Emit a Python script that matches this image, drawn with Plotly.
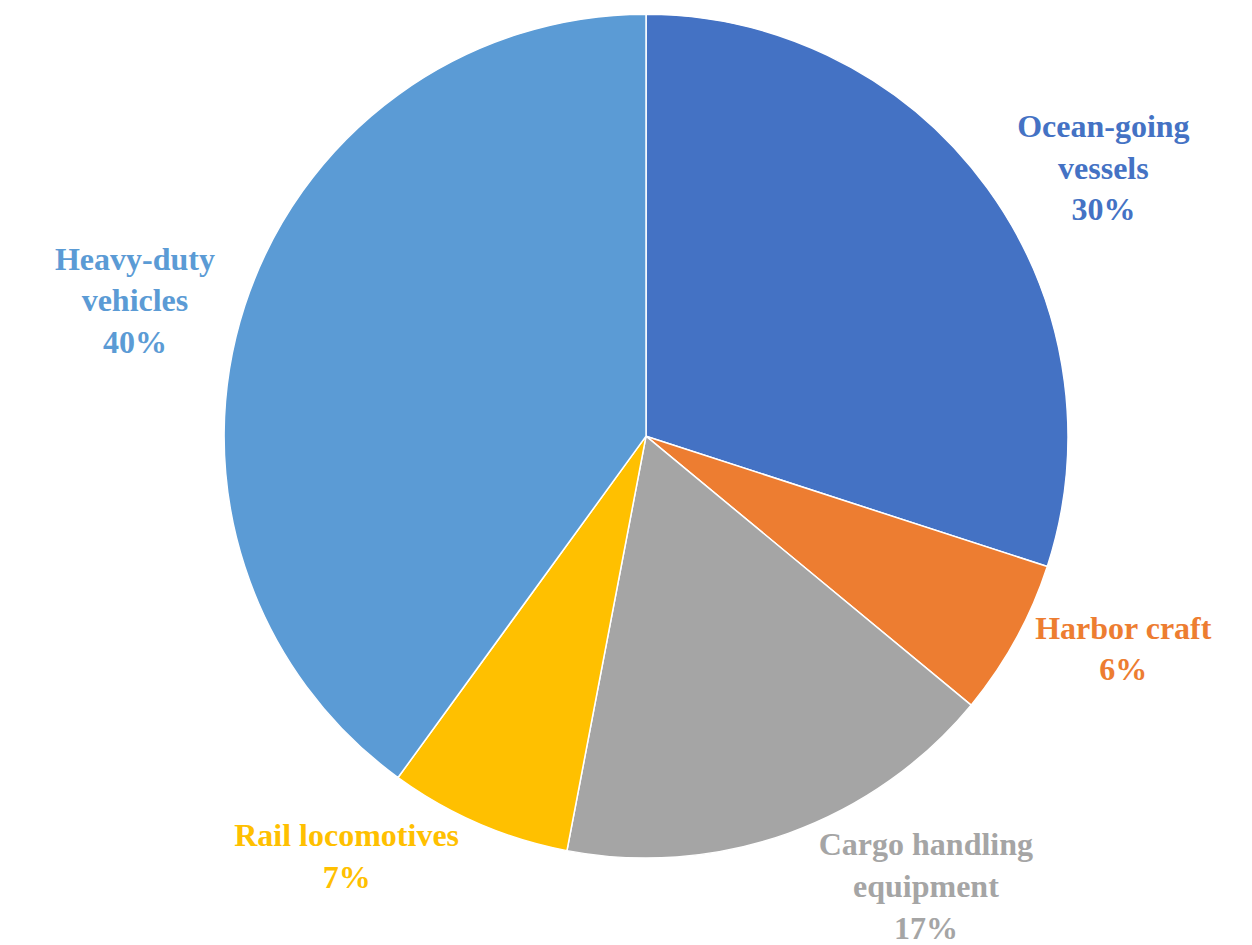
import plotly.graph_objects as go

categories = ["Ocean-going vessels", "Harbor craft", "Cargo handling equipment",
              "Rail locomotives", "Heavy-duty vehicles"]
label_lines = ["Ocean-going<br>vessels", "Harbor craft", "Cargo handling<br>equipment",
               "Rail locomotives", "Heavy-duty<br>vehicles"]
values = [30, 6, 17, 7, 40]
colors = ["#4472C4", "#ED7D31", "#A5A5A5", "#FFC000", "#5B9BD5"]

fig = go.Figure(go.Pie(
    labels=categories,
    values=values,
    customdata=label_lines,
    sort=False,
    direction="clockwise",
    rotation=0,
    marker=dict(colors=colors, line=dict(color="white", width=1.5)),
    textposition="outside",
    texttemplate="<b>%{customdata}<br>%{percent:.0%}</b>",
    outsidetextfont=dict(family="Liberation Serif", size=32, color=colors),
    showlegend=False,
    hoverinfo="label+percent",
    domain=dict(x=[0.1726, 0.8466], y=[0.1004, 0.9934]),
))
fig.update_layout(
    width=1252, height=945,
    margin=dict(l=0, r=0, t=0, b=0),
    paper_bgcolor="white",
    plot_bgcolor="white",
)
fig.write_html("out.html")
